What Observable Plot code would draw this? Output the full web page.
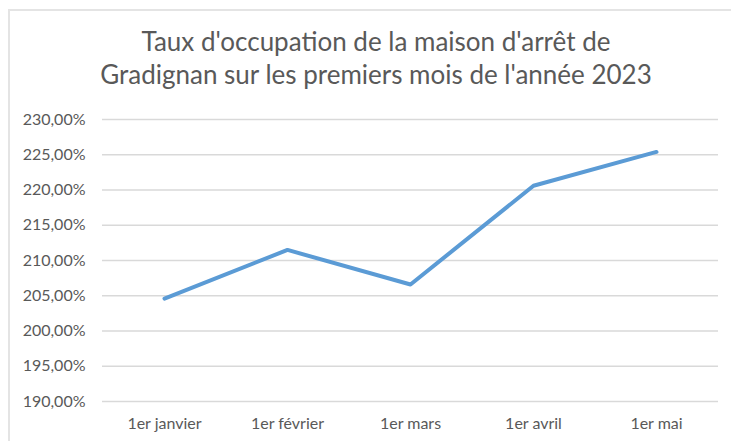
<!DOCTYPE html>
<html>
<head>
<meta charset="utf-8">
<script src="https://cdn.jsdelivr.net/npm/d3@7"></script>
<script src="https://cdn.jsdelivr.net/npm/@observablehq/plot@0.6"></script>
<style>
  html, body { margin: 0; padding: 0; background: #fff; }
  #wrap { position: relative; width: 731px; height: 441px; overflow: hidden; font-family: Lato, "Open Sans", sans-serif; }
  #frame { position: absolute; left: 8px; top: 9px; width: 740px; height: 460px; border-left: 2px solid #e4e4e4; border-top: 2px solid #e4e4e4; box-sizing: border-box; }
  #title { position: relative; height: 100px; box-sizing: border-box; padding-top: 25px; padding-left: 21px; text-align: center; color: #595959; font-size: 26px; line-height: 33px; white-space: nowrap; }
  #chart svg { display: block; }
</style>
</head>
<body>
<div id="wrap">
  <div id="frame"></div>
  <div id="title">Taux d'occupation de la maison d'arrêt de<br>Gradignan sur les premiers mois de l'année 2023</div>
  <div id="chart"></div>
</div>
<script>
const months = ["1er janvier", "1er février", "1er mars", "1er avril", "1er mai"];
const rates = [204.6, 211.5, 206.6, 220.6, 225.4];
const yTicks = [190, 195, 200, 205, 210, 215, 220, 225, 230];

const data = months.map((m, i) => ({month: m, rate: rates[i]}));
const fmt = d => d.toFixed(2).replace(".", ",") + "%";

const chart = Plot.plot({
  width: 731,
  height: 341,
  marginLeft: 102,
  marginRight: 13,
  marginTop: 19,
  marginBottom: 40,
  style: {fontFamily: "Lato, 'Open Sans', sans-serif", fontSize: "16px", color: "#595959", background: "transparent"},
  x: {type: "point", domain: months, padding: 0.5, label: null},
  y: {domain: [190, 230], label: null},
  marks: [
    Plot.gridY(yTicks, {stroke: "#d9d9d9", strokeOpacity: 1, strokeWidth: 1.5}),
    Plot.axisY(yTicks, {tickSize: 0, tickPadding: 17, tickFormat: fmt, fill: "#595959", fontSize: 16}),
    Plot.axisX(months, {tickSize: 0, tickPadding: 16, fill: "#595959", fontSize: 16}),
    Plot.lineY(data, {x: "month", y: "rate", stroke: "#5b9bd5", strokeWidth: 4, strokeLinejoin: "round", strokeLinecap: "round"})
  ]
});
document.getElementById("chart").appendChild(chart);
</script>
</body>
</html>
